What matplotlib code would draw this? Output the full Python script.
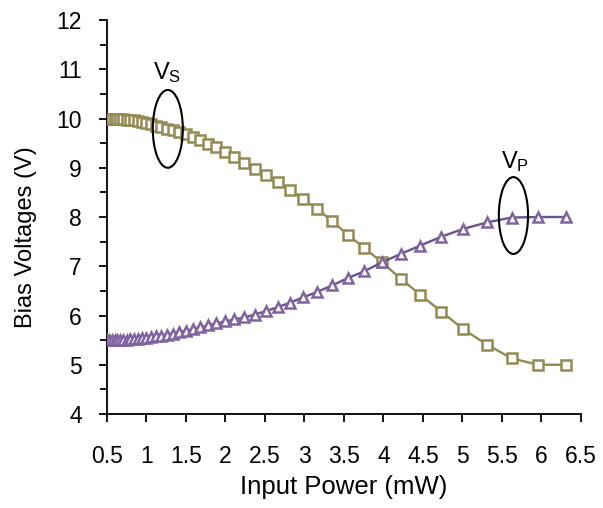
import matplotlib
matplotlib.use("Agg")
import matplotlib.pyplot as plt
from matplotlib.patches import Ellipse
from matplotlib.ticker import MultipleLocator

plt.rcParams["font.family"] = ["Liberation Sans", "DejaVu Sans"]
plt.rcParams["mathtext.default"] = "regular"

# Input power sweep (mW), 0.25 dBm steps from -3 dBm to 8 dBm
power_mw = [0.501, 0.531, 0.562, 0.596, 0.631, 0.668, 0.708, 0.750, 0.794,
            0.841, 0.891, 0.944, 1.000, 1.059, 1.122, 1.189, 1.259, 1.334,
            1.413, 1.496, 1.585, 1.679, 1.778, 1.884, 1.995, 2.113, 2.239,
            2.371, 2.512, 2.661, 2.818, 2.985, 3.162, 3.350, 3.548, 3.758,
            3.981, 4.217, 4.467, 4.732, 5.012, 5.309, 5.623, 5.957, 6.310]

# Series bias voltage V_S (V)
v_s = [10.00, 10.00, 10.00, 10.00, 10.00, 9.99, 9.99, 9.98, 9.97,
       9.96, 9.94, 9.92, 9.90, 9.88, 9.85, 9.82, 9.79, 9.76,
       9.72, 9.68, 9.62, 9.56, 9.49, 9.42, 9.33, 9.22, 9.10,
       8.98, 8.86, 8.71, 8.55, 8.36, 8.16, 7.92, 7.64, 7.37,
       7.08, 6.75, 6.42, 6.08, 5.72, 5.41, 5.13, 5.00, 5.00]

# Parallel bias voltage V_P (V)
v_p = [5.50, 5.50, 5.50, 5.50, 5.50, 5.50, 5.51, 5.51, 5.52,
       5.52, 5.53, 5.54, 5.55, 5.56, 5.58, 5.59, 5.61, 5.63,
       5.66, 5.69, 5.72, 5.76, 5.80, 5.84, 5.88, 5.92, 5.96,
       6.02, 6.09, 6.17, 6.26, 6.37, 6.48, 6.61, 6.76, 6.90,
       7.08, 7.25, 7.42, 7.60, 7.76, 7.89, 7.99, 8.00, 8.00]

x_ticks = [0.5, 1, 1.5, 2, 2.5, 3, 3.5, 4, 4.5, 5, 5.5, 6, 6.5]
x_tick_labels = ["0.5", "1", "1.5", "2", "2.5", "3", "3.5", "4", "4.5",
                 "5", "5.5", "6", "6.5"]

OLIVE = "#948A54"
PURPLE = "#8064A2"
PURPLE_LINE = "#6B5290"

fig = plt.figure(figsize=(6.03, 5.08), dpi=100)
ax = fig.add_axes([0.1774, 0.185, 0.7861, 0.7756])

ax.plot(power_mw, v_s, color=OLIVE, linewidth=1.7, marker="s",
        markersize=6.6, markerfacecolor="white", markeredgecolor=OLIVE,
        markeredgewidth=1.8, zorder=3)
ax.plot(power_mw, v_p, color=PURPLE_LINE, linewidth=1.7, marker="^",
        markersize=7.5, markerfacecolor="white", markeredgecolor=PURPLE,
        markeredgewidth=1.8, zorder=3)

# Ellipses marking each curve with its label
ax.add_patch(Ellipse((1.27, 9.79), 0.38, 1.58, fill=False,
                     edgecolor="black", linewidth=1.5, zorder=4))
ax.add_patch(Ellipse((5.645, 8.03), 0.37, 1.56, fill=False,
                     edgecolor="black", linewidth=1.5, zorder=4))
ax.text(1.266, 10.80, "$V_S$", fontsize=17, ha="center", va="baseline")
ax.text(5.66, 9.0, "$V_P$", fontsize=17, ha="center", va="baseline")

ax.set_xlim(0.5, 6.5)
ax.set_ylim(4, 12)
ax.set_xticks(x_ticks)
ax.set_xticklabels(x_tick_labels)
ax.set_yticks(range(4, 13))
ax.yaxis.set_minor_locator(MultipleLocator(0.5))

ax.spines["top"].set_visible(False)
ax.spines["right"].set_visible(False)
ax.spines["left"].set_linewidth(1.3)
ax.spines["bottom"].set_linewidth(1.3)
ax.tick_params(axis="both", which="major", direction="out", length=6,
               width=1.3, labelsize=16.5)
ax.tick_params(axis="x", which="major", pad=16)
ax.tick_params(axis="y", which="major", pad=12)
ax.tick_params(axis="y", which="minor", direction="out", length=5,
               width=1.3)

ax.set_xlabel("Input Power (mW)", fontsize=18.5, labelpad=5)
ax.set_ylabel("Bias Voltages (V)", fontsize=17)
ax.yaxis.set_label_coords(-0.148, 0.45)

fig.savefig("out.png", dpi=100)
